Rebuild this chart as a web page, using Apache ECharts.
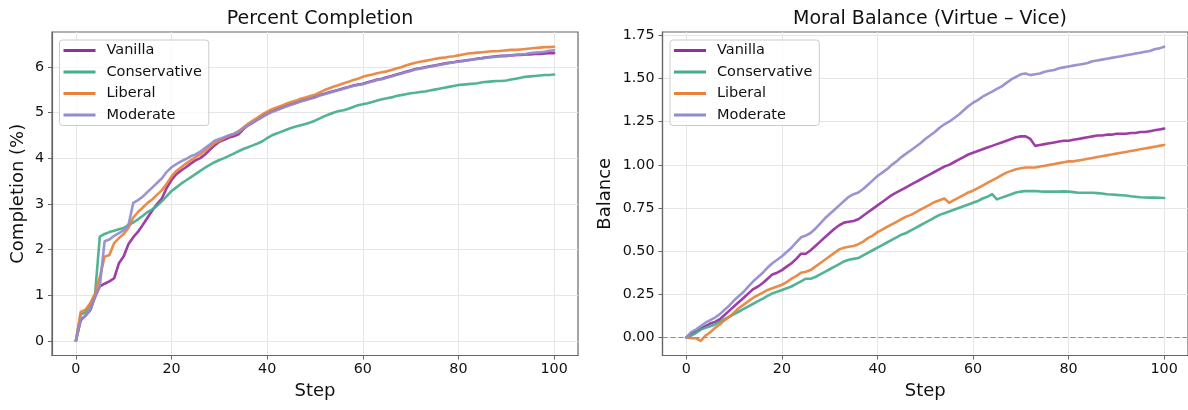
<!DOCTYPE html>
<html>
<head>
<meta charset="utf-8">
<script src="https://cdn.jsdelivr.net/npm/echarts@6/dist/echarts.min.js"></script>
<style>
  html, body { margin: 0; padding: 0; background: #ffffff; overflow: hidden; }
  #chart { width: 1188px; height: 410px; }
</style>
</head>
<body>
<div id="chart"></div>
<script>
// ---- Data ----
const seriesNames = ['Vanilla', 'Conservative', 'Liberal', 'Moderate'];
const xTicks = [0, 20, 40, 60, 80, 100];
const completionTicks = [0, 1, 2, 3, 4, 5, 6];
const balanceTicks = [0, 0.25, 0.5, 0.75, 1.0, 1.25, 1.5, 1.75];

// Percent completion (steps 0..100)
const completionVanilla = [
  0, 0.45, 0.55, 0.67, 0.97, 1.19, 1.25, 1.30, 1.37, 1.70, 1.85, 2.12, 2.27, 2.39, 2.54, 2.70, 2.86, 3.00, 3.12, 3.35,
  3.52, 3.65, 3.73, 3.80, 3.88, 3.95, 4.00, 4.08, 4.18, 4.28, 4.36, 4.40, 4.45, 4.48, 4.52, 4.63, 4.72, 4.78, 4.85, 4.92,
  4.98, 5.03, 5.07, 5.11, 5.15, 5.18, 5.21, 5.25, 5.28, 5.31, 5.34, 5.38, 5.41, 5.44, 5.47, 5.50, 5.53, 5.56, 5.59, 5.61,
  5.63, 5.66, 5.69, 5.72, 5.74, 5.77, 5.80, 5.83, 5.86, 5.89, 5.92, 5.95, 5.97, 5.99, 6.01, 6.03, 6.05, 6.07, 6.09, 6.10,
  6.12, 6.13, 6.15, 6.16, 6.18, 6.19, 6.21, 6.22, 6.23, 6.24, 6.24, 6.25, 6.26, 6.26, 6.27, 6.27, 6.28, 6.28, 6.29, 6.30,
  6.30
];
const completionConservative = [
  0, 0.58, 0.62, 0.80, 1.02, 2.28, 2.34, 2.38, 2.41, 2.44, 2.47, 2.54, 2.59, 2.66, 2.74, 2.82, 2.88, 2.96, 3.06, 3.17,
  3.28, 3.36, 3.44, 3.51, 3.58, 3.65, 3.72, 3.79, 3.85, 3.91, 3.96, 4.00, 4.05, 4.10, 4.15, 4.20, 4.24, 4.28, 4.32, 4.37,
  4.44, 4.50, 4.54, 4.58, 4.62, 4.66, 4.69, 4.72, 4.75, 4.78, 4.82, 4.87, 4.92, 4.96, 5.00, 5.03, 5.05, 5.08, 5.12, 5.16,
  5.18, 5.20, 5.23, 5.26, 5.29, 5.31, 5.33, 5.36, 5.38, 5.40, 5.42, 5.43, 5.45, 5.46, 5.48, 5.50, 5.52, 5.54, 5.56, 5.58,
  5.60, 5.61, 5.62, 5.63, 5.64, 5.66, 5.67, 5.68, 5.69, 5.69, 5.70, 5.72, 5.74, 5.76, 5.78, 5.79, 5.80, 5.81, 5.82, 5.82,
  5.83
];
const completionLiberal = [
  0, 0.63, 0.68, 0.82, 1.03, 1.40, 1.84, 1.88, 2.14, 2.25, 2.34, 2.47, 2.70, 2.82, 2.92, 3.02, 3.10, 3.20, 3.30, 3.44,
  3.60, 3.72, 3.80, 3.88, 3.95, 4.02, 4.08, 4.16, 4.24, 4.33, 4.38, 4.44, 4.49, 4.53, 4.59, 4.67, 4.75, 4.82, 4.89, 4.96,
  5.02, 5.07, 5.11, 5.15, 5.19, 5.23, 5.26, 5.30, 5.33, 5.36, 5.39, 5.44, 5.49, 5.53, 5.57, 5.60, 5.64, 5.67, 5.71, 5.74,
  5.78, 5.81, 5.83, 5.86, 5.88, 5.90, 5.93, 5.96, 5.99, 6.03, 6.06, 6.09, 6.11, 6.13, 6.15, 6.17, 6.19, 6.20, 6.22, 6.23,
  6.25, 6.27, 6.29, 6.30, 6.31, 6.32, 6.33, 6.34, 6.34, 6.35, 6.36, 6.37, 6.37, 6.38, 6.39, 6.40, 6.41, 6.42, 6.43, 6.43,
  6.44
];
const completionModerate = [
  0, 0.47, 0.55, 0.67, 0.95, 1.20, 2.18, 2.22, 2.30, 2.36, 2.42, 2.54, 3.02, 3.08, 3.16, 3.26, 3.36, 3.46, 3.56, 3.70,
  3.80, 3.87, 3.93, 3.98, 4.04, 4.08, 4.14, 4.22, 4.30, 4.38, 4.42, 4.46, 4.50, 4.53, 4.57, 4.65, 4.72, 4.78, 4.84, 4.90,
  4.96, 5.01, 5.05, 5.09, 5.13, 5.17, 5.20, 5.24, 5.27, 5.30, 5.33, 5.37, 5.40, 5.43, 5.46, 5.49, 5.52, 5.55, 5.58, 5.60,
  5.62, 5.65, 5.68, 5.71, 5.73, 5.76, 5.79, 5.82, 5.85, 5.88, 5.91, 5.94, 5.96, 5.98, 6.00, 6.02, 6.04, 6.06, 6.08, 6.10,
  6.11, 6.13, 6.14, 6.16, 6.17, 6.19, 6.20, 6.21, 6.22, 6.23, 6.24, 6.25, 6.26, 6.27, 6.28, 6.30, 6.31, 6.32, 6.33, 6.35,
  6.36
];

// Moral balance (steps 0..100)
const balanceVanilla = [
  0, 0.02, 0.035, 0.05, 0.065, 0.08, 0.09, 0.105, 0.13, 0.155, 0.18, 0.205, 0.23, 0.255, 0.28, 0.295, 0.315, 0.34, 0.365, 0.375,
  0.39, 0.41, 0.43, 0.455, 0.485, 0.485, 0.505, 0.53, 0.555, 0.58, 0.605, 0.63, 0.65, 0.665, 0.67, 0.675, 0.685, 0.705, 0.725, 0.745,
  0.765, 0.785, 0.805, 0.825, 0.84, 0.855, 0.87, 0.885, 0.90, 0.915, 0.93, 0.945, 0.96, 0.975, 0.99, 1.00, 1.015, 1.03, 1.045, 1.06,
  1.07, 1.08, 1.09, 1.10, 1.11, 1.12, 1.13, 1.14, 1.15, 1.16, 1.165, 1.165, 1.15, 1.11, 1.115, 1.12, 1.125, 1.13, 1.135, 1.14,
  1.14, 1.145, 1.15, 1.155, 1.16, 1.165, 1.17, 1.17, 1.175, 1.175, 1.18, 1.18, 1.18, 1.185, 1.185, 1.19, 1.19, 1.195, 1.20, 1.205,
  1.21
];
const balanceConservative = [
  0, 0.01, 0.025, 0.045, 0.055, 0.065, 0.075, 0.09, 0.105, 0.12, 0.135, 0.15, 0.165, 0.18, 0.195, 0.21, 0.225, 0.24, 0.255, 0.265,
  0.275, 0.285, 0.295, 0.31, 0.325, 0.34, 0.34, 0.35, 0.365, 0.38, 0.395, 0.41, 0.425, 0.44, 0.45, 0.455, 0.46, 0.475, 0.49, 0.505,
  0.52, 0.535, 0.55, 0.565, 0.58, 0.595, 0.605, 0.62, 0.635, 0.65, 0.665, 0.68, 0.695, 0.71, 0.72, 0.73, 0.74, 0.75, 0.76, 0.77,
  0.78, 0.79, 0.805, 0.815, 0.83, 0.80, 0.81, 0.82, 0.83, 0.84, 0.845, 0.848, 0.848, 0.848, 0.846, 0.845, 0.845, 0.845, 0.845, 0.846,
  0.845, 0.842, 0.838, 0.838, 0.838, 0.838, 0.836, 0.834, 0.83, 0.828, 0.826, 0.824, 0.822, 0.818, 0.815, 0.812, 0.811, 0.81, 0.81, 0.809,
  0.808
];
const balanceLiberal = [
  0, -0.005, -0.005, -0.02, 0.01, 0.03, 0.055, 0.075, 0.10, 0.12, 0.145, 0.17, 0.19, 0.21, 0.23, 0.245, 0.26, 0.275, 0.285, 0.295,
  0.305, 0.32, 0.34, 0.355, 0.375, 0.38, 0.39, 0.41, 0.43, 0.45, 0.47, 0.49, 0.51, 0.52, 0.525, 0.53, 0.54, 0.555, 0.575, 0.59,
  0.61, 0.625, 0.64, 0.655, 0.67, 0.685, 0.70, 0.71, 0.725, 0.74, 0.755, 0.77, 0.785, 0.795, 0.805, 0.78, 0.795, 0.81, 0.825, 0.84,
  0.85, 0.865, 0.88, 0.895, 0.91, 0.925, 0.94, 0.955, 0.965, 0.975, 0.98, 0.985, 0.985, 0.985, 0.99, 0.995, 1.00, 1.005, 1.01, 1.015,
  1.02, 1.02, 1.025, 1.03, 1.035, 1.04, 1.045, 1.05, 1.055, 1.06, 1.065, 1.07, 1.075, 1.08, 1.085, 1.09, 1.095, 1.10, 1.105, 1.11,
  1.115
];
const balanceModerate = [
  0, 0.03, 0.045, 0.065, 0.085, 0.10, 0.115, 0.135, 0.16, 0.185, 0.215, 0.24, 0.265, 0.295, 0.325, 0.35, 0.375, 0.405, 0.43, 0.45,
  0.47, 0.495, 0.52, 0.55, 0.58, 0.59, 0.605, 0.63, 0.66, 0.69, 0.715, 0.74, 0.765, 0.79, 0.815, 0.83, 0.84, 0.86, 0.885, 0.91,
  0.935, 0.955, 0.975, 1.00, 1.02, 1.045, 1.065, 1.085, 1.105, 1.125, 1.15, 1.17, 1.19, 1.215, 1.235, 1.25, 1.27, 1.29, 1.315, 1.34,
  1.36, 1.375, 1.395, 1.41, 1.425, 1.44, 1.455, 1.475, 1.495, 1.51, 1.525, 1.53, 1.52, 1.525, 1.53, 1.54, 1.545, 1.55, 1.56, 1.565,
  1.57, 1.575, 1.58, 1.585, 1.59, 1.60, 1.605, 1.61, 1.615, 1.62, 1.625, 1.63, 1.635, 1.64, 1.645, 1.65, 1.655, 1.66, 1.67, 1.675,
  1.685
];

// ---- Styling ----
const colors = ['#962d9e', '#43ad8c', '#e8823a', '#918cce'];
const FONT = 'DejaVu Sans';
const TXT = '#111111';
const FRAME = '#666666';

function toPairs(arr) { return arr.map((v, i) => [i, v]); }

const chart = echarts.init(document.getElementById('chart'), null, { renderer: 'canvas' });

function xAxisFor(gridIndex) {
  return {
    type: 'value', gridIndex: gridIndex, min: -5, max: 105,
    name: 'Step', nameLocation: 'middle', nameGap: 27,
    nameTextStyle: { fontFamily: FONT, fontSize: 18, color: TXT },
    axisLine: { show: true, onZero: false, lineStyle: { color: FRAME, width: 1.2 } },
    axisTick: { show: true, length: 4, inside: false, customValues: xTicks, lineStyle: { color: FRAME, width: 1 } },
    axisLabel: { customValues: xTicks, margin: 7, fontFamily: FONT, fontSize: 14.3, color: TXT },
    splitLine: { show: true, lineStyle: { color: '#e6e6e6', width: 1 } }
  };
}

function yAxisFor(gridIndex, min, max, ticks, name, nameGap, fmt) {
  return {
    type: 'value', gridIndex: gridIndex, min: min, max: max,
    name: name, nameLocation: 'middle', nameGap: nameGap, nameRotate: 90,
    nameTextStyle: { fontFamily: FONT, fontSize: 18, color: TXT },
    axisLine: { show: true, onZero: false, lineStyle: { color: FRAME, width: 1.2 } },
    axisTick: { show: true, length: 4, inside: false, customValues: ticks, lineStyle: { color: FRAME, width: 1 } },
    axisLabel: { customValues: ticks, margin: 8, fontFamily: FONT, fontSize: 14.3, color: TXT, formatter: fmt },
    splitLine: { show: true, lineStyle: { color: '#e6e6e6', width: 1 } }
  };
}

function legendFor(left) {
  return {
    orient: 'vertical', left: left, top: 40,
    data: seriesNames,
    icon: 'rect', itemWidth: 32, itemHeight: 3,
    itemGap: 4.5,
    padding: [2, 7, 2, 4],
    backgroundColor: 'rgba(255,255,255,0.8)',
    borderColor: '#cccccc', borderWidth: 1, borderRadius: 3,
    textStyle: { fontFamily: FONT, fontSize: 14.5, color: TXT, lineHeight: 17, padding: [0, 0, 0, 6] },
    selectedMode: false
  };
}

function lineSeries(name, data, color, xi, yi, extra) {
  const s = {
    name: name, type: 'line', xAxisIndex: xi, yAxisIndex: yi,
    data: toPairs(data), showSymbol: false, symbol: 'none',
    lineStyle: { color: color, width: 2.6, opacity: 0.92, join: 'round', cap: 'round' },
    itemStyle: { color: color },
    animation: false, silent: true, z: 3
  };
  return Object.assign(s, extra || {});
}

const option = {
  animation: false,
  backgroundColor: '#ffffff',
  title: [
    { text: 'Percent Completion', left: 315, top: 5, textAlign: 'center',
      textStyle: { fontFamily: FONT, fontSize: 19, fontWeight: 'normal', color: TXT } },
    { text: 'Moral Balance (Virtue – Vice)', left: 925, top: 5, textAlign: 'center',
      textStyle: { fontFamily: FONT, fontSize: 19, fontWeight: 'normal', color: TXT } }
  ],
  grid: [
    { left: 52, top: 32, width: 526, height: 323.5, show: true, borderColor: FRAME, borderWidth: 1.2, backgroundColor: 'transparent' },
    { left: 662.5, top: 32, width: 526.5, height: 323.5, show: true, borderColor: FRAME, borderWidth: 1.2, backgroundColor: 'transparent' }
  ],
  legend: [legendFor(59.5), legendFor(670)],
  xAxis: [xAxisFor(0), xAxisFor(1)],
  yAxis: [
    yAxisFor(0, -0.322, 6.762, completionTicks, 'Completion (%)', 25, v => String(v)),
    yAxisFor(1, -0.105, 1.77, balanceTicks, 'Balance', 48, v => v.toFixed(2))
  ],
  series: [
    lineSeries('Vanilla', completionVanilla, colors[0], 0, 0),
    lineSeries('Conservative', completionConservative, colors[1], 0, 0),
    lineSeries('Liberal', completionLiberal, colors[2], 0, 0),
    lineSeries('Moderate', completionModerate, colors[3], 0, 0),
    lineSeries('Vanilla', balanceVanilla, colors[0], 1, 1, {
      markLine: {
        silent: true, symbol: 'none', animation: false,
        label: { show: false },
        lineStyle: { color: '#8a8a8a', type: [5, 3], width: 1.2 },
        data: [{ yAxis: 0 }],
        z: 1
      }
    }),
    lineSeries('Conservative', balanceConservative, colors[1], 1, 1),
    lineSeries('Liberal', balanceLiberal, colors[2], 1, 1),
    lineSeries('Moderate', balanceModerate, colors[3], 1, 1)
  ]
};

chart.setOption(option);
</script>
</body>
</html>
